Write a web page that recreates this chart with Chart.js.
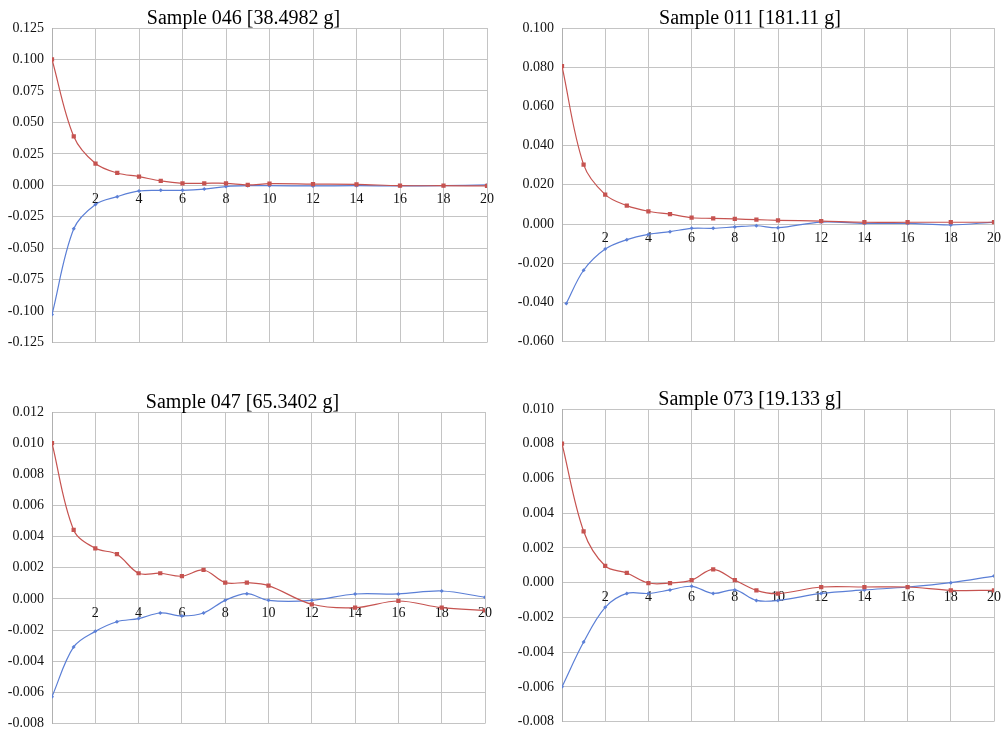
<!DOCTYPE html>
<html>
<head>
<meta charset="utf-8">
<script src="https://cdn.jsdelivr.net/npm/chart.js@4/dist/chart.umd.min.js"></script>
<style>
  body { margin: 0; background: #fff; width: 1007px; height: 731px; position: relative; overflow: hidden; }
  .panel { position: absolute; }
</style>
</head>
<body>
<div class="panel" id="p1" style="left:0;top:0;width:500px;height:359px"><canvas id="c1"></canvas></div>
<div class="panel" id="p2" style="left:505px;top:0;width:502px;height:358px"><canvas id="c2"></canvas></div>
<div class="panel" id="p3" style="left:0;top:380px;width:500px;height:360px"><canvas id="c3"></canvas></div>
<div class="panel" id="p4" style="left:505px;top:380px;width:502px;height:358px"><canvas id="c4"></canvas></div>
<script>
// x positions of the measurements
const xSteps = [0, 1, 2, 3, 4, 5, 6, 7, 8, 9, 10, 12, 14, 16, 18, 20];
const xSteps011Blue = [0.2, 1, 2, 3, 4, 5, 6, 7, 8, 9, 10, 12, 14, 16, 18, 20];

const titles = ["Sample 046 [38.4982 g]", "Sample 011 [181.11 g]", "Sample 047 [65.3402 g]", "Sample 073 [19.133 g]"];

// Sample 046
const red046 = [0.100, 0.0388, 0.0173, 0.0098, 0.0069, 0.0035, 0.0016, 0.0016, 0.0016, 0.0003, 0.0013, 0.0010, 0.0008, -0.0003, -0.0003, -0.0005];
const blue046 = [-0.1027, -0.0346, -0.0152, -0.0090, -0.0045, -0.0040, -0.0040, -0.0030, -0.0010, -0.0003, -0.0003, -0.0005, -0.0003, -0.0005, -0.0003, 0.0003];

// Sample 011
const red011 = [0.0805, 0.0303, 0.0150, 0.0094, 0.0065, 0.0050, 0.0032, 0.0029, 0.0026, 0.0022, 0.0019, 0.0015, 0.0009, 0.0009, 0.0009, 0.0009];
const blue011 = [-0.0405, -0.0236, -0.0128, -0.0080, -0.0053, -0.0039, -0.0022, -0.0022, -0.0015, -0.0009, -0.0019, 0.0010, 0.0003, 0.0003, -0.0005, 0.0010];

// Sample 047
const red047 = [0.0100, 0.00443, 0.00325, 0.00287, 0.00165, 0.00165, 0.00146, 0.00186, 0.00105, 0.00105, 0.00086, -0.00034, -0.00056, -0.00013, -0.00056, -0.00073];
const blue047 = [-0.00627, -0.00308, -0.00208, -0.00146, -0.00126, -0.00090, -0.00109, -0.00090, -0.00009, 0.00034, -0.00009, -0.00009, 0.00032, 0.00032, 0.00051, 0.00011];

// Sample 073
const red073 = [0.0080, 0.00296, 0.00096, 0.00056, -0.00002, -0.00002, 0.00015, 0.00077, 0.00015, -0.00044, -0.00063, -0.00025, -0.00025, -0.00025, -0.00044, -0.00044];
const blue073 = [-0.0060, -0.00342, -0.00142, -0.00062, -0.00062, -0.00042, -0.00021, -0.00062, -0.00042, -0.00102, -0.00102, -0.00062, -0.00042, -0.00025, 0.0000, 0.00038];

// y axis ranges
const yMins = [-0.125, -0.060, -0.008, -0.008];
const yMaxs = [0.125, 0.100, 0.012, 0.010];
const ySteps = [0.025, 0.020, 0.002, 0.002];

const redColor = "#c65350";
const blueColor = "#5b7fd6";
const gridColor = "#c4c4c4";
const tickFont = { family: "'Liberation Serif', 'Times New Roman', serif", size: 14 };

function pairs(xs, ys) {
    return ys.map((y, i) => ({ x: xs[i], y: y }));
}

function makeChart(id, idx, redData, blueData, blueX, opts) {
    let ctx = document.getElementById(id).getContext("2d");
    return new Chart(ctx, {
        type: "line",
        data: {
            datasets: [{
                data: pairs(xSteps, redData),
                borderColor: redColor,
                backgroundColor: redColor,
                borderWidth: 1.2,
                pointStyle: "rect",
                pointRadius: 3,
                pointBorderWidth: 0,
                tension: 0.35
            }, {
                data: pairs(blueX, blueData),
                borderColor: blueColor,
                backgroundColor: blueColor,
                borderWidth: 1.2,
                pointStyle: "rectRot",
                pointRadius: 2,
                pointBorderWidth: 0,
                tension: 0.35
            }]
        },
        options: {
            responsive: true,
            maintainAspectRatio: false,
            animation: false,
            layout: { padding: { left: 0, right: opts.padRight, top: 0, bottom: 8 } },
            plugins: {
                legend: { display: false },
                tooltip: { enabled: false },
                title: {
                    display: true,
                    text: titles[idx],
                    color: "#000",
                    font: { family: "'Liberation Serif', 'Times New Roman', serif", size: 20, weight: "normal", lineHeight: 1 },
                    padding: { top: opts.titleTop + 5, bottom: -1 }
                }
            },
            scales: {
                x: {
                    type: "linear",
                    min: 0,
                    max: 20,
                    position: { y: 0 },
                    afterFit: s => { s.height = 0; },
                    ticks: {
                        stepSize: 2,
                        color: "#111",
                        font: tickFont,
                        padding: 6,
                        maxRotation: 0,
                        callback: v => v === 0 ? "" : v
                    },
                    grid: { color: gridColor, drawTicks: false },
                    border: { color: gridColor }
                },
                y: {
                    min: yMins[idx],
                    max: yMaxs[idx],
                    afterFit: s => { s.width = opts.yWidth; },
                    ticks: {
                        stepSize: ySteps[idx],
                        color: "#111",
                        font: tickFont,
                        padding: 8,
                        callback: v => v.toFixed(3)
                    },
                    grid: { color: gridColor, drawTicks: false },
                    border: { color: "#b0b0b0" }
                }
            }
        }
    });
}

makeChart("c1", 0, red046, blue046, xSteps, { yWidth: 52, padRight: 13, titleTop: 4 });
makeChart("c2", 1, red011, blue011, xSteps011Blue, { yWidth: 57, padRight: 12, titleTop: 4 });
makeChart("c3", 2, red047, blue047, xSteps, { yWidth: 52, padRight: 15, titleTop: 8 });
makeChart("c4", 3, red073, blue073, xSteps, { yWidth: 57, padRight: 12, titleTop: 5 });
</script>
</body>
</html>
